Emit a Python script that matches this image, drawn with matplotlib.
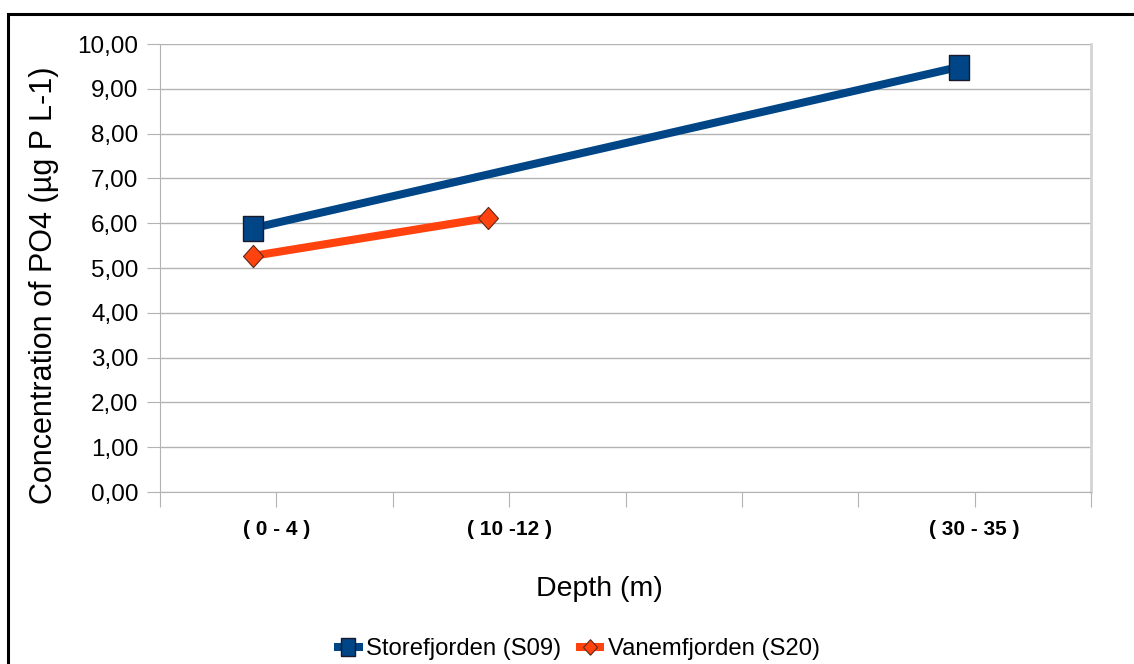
import matplotlib.pyplot as plt
from matplotlib.patches import Rectangle

# data
depth_labels = ['( 0 - 4 )', '( 10 -12 )', '( 30 - 35 )']
label_pos = [1, 3, 7]
store_x = [0.80, 6.87]
store_y = [5.89, 9.49]
vanem_x = [0.80, 2.82]
vanem_y = [5.27, 6.12]

blue = '#004586'
orange = '#ff420e'
grid_c = '#b3b3b3'

plt.rcParams['font.family'] = ['Liberation Sans', 'DejaVu Sans']

# slightly tall square and diamond, like the original symbols
tall_square = [(-0.8, -1), (0.8, -1), (0.8, 1), (-0.8, 1), (-0.8, -1)]
tall_diamond = [(0, -1), (0.9, 0), (0, 1), (-0.9, 0), (0, -1)]

fig = plt.figure(figsize=(11.34, 6.64), dpi=100)
ax = fig.add_axes([160/1134, 172/664, 931/1134, 448/664])

ax.plot(store_x, store_y, color=blue, lw=5.8, marker=tall_square, ms=18,
        mec='#1a1a2e', mew=1.0, label='Storefjorden (S09)', solid_capstyle='butt')
ax.plot(vanem_x, vanem_y, color=orange, lw=5.8, marker=tall_diamond, ms=16,
        mec='#5a2a1a', mew=0.8, label='Vanemfjorden (S20)', solid_capstyle='butt')

ax.set_xlim(0, 8)
ax.set_ylim(0, 10)
ax.set_yticks(range(0, 11))
ax.set_yticklabels(['%d,00' % v for v in range(0, 11)], fontsize=17.5)
ax.set_xticks(range(0, 9))
xlabs = [''] * 9
for p, l in zip(label_pos, depth_labels):
    xlabs[p] = l
ax.set_xticklabels(xlabs, fontsize=15, fontweight='bold')
ax.tick_params(axis='x', length=11, color=grid_c, pad=9)
ax.tick_params(axis='y', length=9.5, color=grid_c, pad=6)
ax.grid(axis='y', color=grid_c, lw=1)
ax.set_axisbelow(True)
for s in ['left', 'bottom']:
    ax.spines[s].set_color(grid_c)
ax.spines['right'].set_color('#d4d4d4')
ax.spines['right'].set_linewidth(2)
ax.spines['top'].set_visible(False)

ax.set_xlabel('Depth (m)', fontsize=20.5)
ax.xaxis.set_label_coords(0.4715, -0.188)
ax.set_ylabel('Concentration of PO4 (µg P L-1)', fontsize=22)
ax.yaxis.set_label_coords(-0.108, 0.462)

leg = fig.legend(loc='center', bbox_to_anchor=(577/1134, 15/664), ncol=2,
                 frameon=False, fontsize=17.2, handlelength=1.2, handletextpad=0.15,
                 columnspacing=0.6, markerscale=0.7, borderpad=0)

# outer frame of the chart object
fig.patches.append(Rectangle((7.5/1134, -0.1), 1.2, 1 - 14/664 + 0.1,
                             transform=fig.transFigure, fill=False,
                             edgecolor='black', lw=2.2, zorder=10))

fig.savefig('out.png', dpi=100)
